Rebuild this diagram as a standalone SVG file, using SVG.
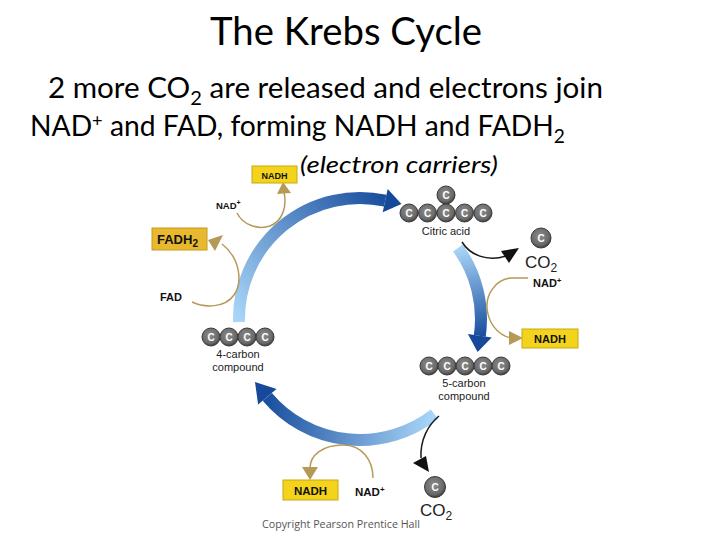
<svg xmlns="http://www.w3.org/2000/svg" xmlns:xlink="http://www.w3.org/1999/xlink" width="720" height="540" viewBox="0 0 720 540">
<style>
.hd{font-family:Lato,"Open Sans","Liberation Sans",sans-serif;fill:#000}
.lb{font-family:"Liberation Sans",Arial,sans-serif;fill:#222}
.bl{font-family:"Liberation Sans",Arial,sans-serif;font-weight:bold;fill:#111}
.ybox{fill:#f3d31b;stroke:#c9a910;stroke-width:1}
.gold{fill:none;stroke:#b49a56;stroke-width:1.5}
.goldh{fill:#b49a56}
.blk{fill:none;stroke:#1a1a1a;stroke-width:1.5}
.blkh{fill:#111}
.band{fill:none;stroke-width:12}
.head{fill:#16499a}
.ctext{font-family:"Liberation Sans",Arial,sans-serif;font-weight:bold;font-size:10px;fill:#fff}
</style>
<defs>
<radialGradient id="cg" cx="0.45" cy="0.4" r="0.6">
<stop offset="0" stop-color="#8c8c8c"/>
<stop offset="0.75" stop-color="#6a6a6a"/>
<stop offset="1" stop-color="#3c3c3c"/>
</radialGradient>
<g id="c">
<circle r="9" fill="url(#cg)" stroke="#3a3a3a" stroke-width="1"/>
<text class="ctext" x="0" y="3.6" text-anchor="middle">C</text>
</g>
<linearGradient id="gL" gradientUnits="userSpaceOnUse" x1="239" y1="322" x2="386" y2="200">
<stop offset="0" stop-color="#a9d6f8"/>
<stop offset="1" stop-color="#1a4f9f"/>
</linearGradient>
<linearGradient id="gR" gradientUnits="userSpaceOnUse" x1="458" y1="248" x2="480" y2="336">
<stop offset="0" stop-color="#a9d6f8"/>
<stop offset="1" stop-color="#1a4f9f"/>
</linearGradient>
<linearGradient id="gB" gradientUnits="userSpaceOnUse" x1="434" y1="414" x2="267" y2="397">
<stop offset="0" stop-color="#a9d6f8"/>
<stop offset="1" stop-color="#1a4f9f"/>
</linearGradient>
</defs>
<rect width="720" height="540" fill="#fff"/>

<g id="title">
<text class="hd" x="346" y="45" font-size="38" text-anchor="middle" textLength="272" lengthAdjust="spacingAndGlyphs">The Krebs Cycle</text>
</g>
<g id="subtitle">
<text class="hd" x="48" y="98" font-size="28" textLength="555" lengthAdjust="spacingAndGlyphs">2 more CO<tspan font-size="19" dy="7">2</tspan><tspan dy="-7"> are released and electrons join</tspan></text>
<text class="hd" x="30" y="136" font-size="28" textLength="535" lengthAdjust="spacingAndGlyphs">NAD<tspan font-size="18" dy="-9">+</tspan><tspan dy="9"> and FAD, forming NADH and FADH</tspan><tspan font-size="19" dy="7">2</tspan></text>
<text class="hd" x="300" y="173" font-size="24" font-style="italic" textLength="198" lengthAdjust="spacingAndGlyphs">(electron carriers)</text>
</g>

<g id="connectors">
<path class="band" stroke="url(#gL)" d="M239 322 A121 121 0 0 1 385.2 200.6"/>
<polygon class="head" points="387.7,188.9 382.7,212.3 401.5,204"/>
<path class="band" stroke="url(#gR)" d="M457.9 247.9 A121 121 0 0 1 479.8 335.8"/>
<polygon class="head" points="491.7,337.5 467.9,334.1 477.6,352"/>
<path class="band" stroke="url(#gB)" d="M434.5 414.3 A121 121 0 0 1 267.3 396.8"/>
<polygon class="head" points="258.1,404.5 276.5,389.1 255,382"/>

<path class="gold" d="M237 213 C243 225 258 230 270 226 C283 221 287 206 284 192"/>
<polygon class="goldh" points="277,194 291,193 283,182"/>
<path class="gold" d="M192 302 C205 308 225 308 234 295 C243 282 240 258 222 244"/>
<polygon class="goldh" points="208,240 223,235 215,251"/>
<path class="gold" d="M528 278 L510 278 C495 280 486 295 487 308 C488 322 497 335 511 338"/>
<polygon class="goldh" points="509,331 509,345 523,338"/>
<path class="gold" d="M373 478 C373 460 362 445 343 445 C323 445 310 455 310 468"/>
<polygon class="goldh" points="302,467 318,467 310,480"/>

<path class="blk" d="M462 242 C470 255 487 262 506 256"/>
<polygon class="blkh" points="519,248 501,251 509,263"/>
<path class="blk" d="M439 416 C428 425 420 440 421 458"/>
<polygon class="blkh" points="413,463 426,456 429,472"/>
</g>

<g id="citric-acid">
<use xlink:href="#c" x="446" y="195"/>
<use xlink:href="#c" x="409" y="213"/>
<use xlink:href="#c" x="427.5" y="213"/>
<use xlink:href="#c" x="446" y="213"/>
<use xlink:href="#c" x="464.5" y="213"/>
<use xlink:href="#c" x="483" y="213"/>
<text class="lb" x="446" y="235" font-size="11" text-anchor="middle">Citric acid</text>
</g>

<g id="five-carbon">
<use xlink:href="#c" x="429" y="366"/>
<use xlink:href="#c" x="447" y="366"/>
<use xlink:href="#c" x="465" y="366"/>
<use xlink:href="#c" x="483" y="366"/>
<use xlink:href="#c" x="501" y="366"/>
<text class="lb" x="464" y="387" font-size="11" text-anchor="middle">5-carbon</text>
<text class="lb" x="464" y="400" font-size="11" text-anchor="middle">compound</text>
</g>

<g id="four-carbon">
<use xlink:href="#c" x="211" y="337"/>
<use xlink:href="#c" x="229" y="337"/>
<use xlink:href="#c" x="247" y="337"/>
<use xlink:href="#c" x="265" y="337"/>
<text class="lb" x="238" y="358" font-size="11" text-anchor="middle">4-carbon</text>
<text class="lb" x="238" y="371" font-size="11" text-anchor="middle">compound</text>
</g>

<g id="nadh-top">
<rect class="ybox" x="252" y="166" width="45" height="17"/>
<text class="bl" x="274.5" y="178.5" font-size="9" text-anchor="middle">NADH</text>
<text class="bl" x="216" y="209" font-size="9.5">NAD<tspan font-size="7" dy="-4">+</tspan></text>
</g>

<g id="fadh2">
<rect class="ybox" x="152" y="228" width="55" height="22" style="fill:#e8b92e;stroke:#c49a1c"/>
<text class="bl" x="157" y="244" font-size="13">FADH<tspan font-size="10" dy="3">2</tspan></text>
<text class="bl" x="160" y="301" font-size="11">FAD</text>
</g>

<g id="co2-top">
<circle cx="541" cy="238" r="10" fill="url(#cg)" stroke="#3a3a3a"/>
<text class="ctext" x="541" y="242" font-size="11" text-anchor="middle">C</text>
<text class="lb" x="525" y="268" font-size="17" fill="#333">CO<tspan font-size="12" dy="4">2</tspan></text>
<text class="bl" x="533" y="287" font-size="11">NAD<tspan font-size="8" dy="-4">+</tspan></text>
</g>

<g id="nadh-right">
<rect class="ybox" x="522" y="329" width="56" height="19"/>
<text class="bl" x="550" y="343" font-size="11" text-anchor="middle">NADH</text>
</g>

<g id="nadh-bottom">
<rect class="ybox" x="283" y="480" width="55" height="20"/>
<text class="bl" x="310.5" y="495" font-size="11.5" text-anchor="middle">NADH</text>
<text class="bl" x="355" y="496" font-size="11.5">NAD<tspan font-size="8" dy="-4">+</tspan></text>
</g>

<g id="co2-bottom">
<circle cx="435" cy="487" r="10.5" fill="url(#cg)" stroke="#3a3a3a"/>
<text class="ctext" x="435" y="491" font-size="11" text-anchor="middle">C</text>
<text class="lb" x="420" y="516" font-size="17" fill="#333">CO<tspan font-size="12" dy="4">2</tspan></text>
</g>

<g id="copyright">
<text x="262" y="528" font-family="'Open Sans','Liberation Sans',sans-serif" font-size="10.5" fill="#555" textLength="158" lengthAdjust="spacingAndGlyphs">Copyright Pearson Prentice Hall</text>
</g>
</svg>
